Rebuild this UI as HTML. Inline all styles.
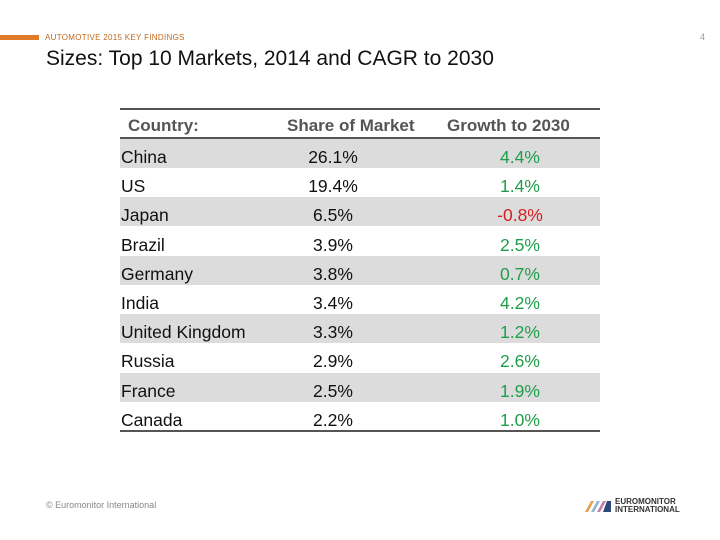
<!DOCTYPE html>
<html><head><meta charset="utf-8"><style>
body{margin:0;width:720px;height:540px;background:#fff;position:relative;overflow:hidden;font-family:"Liberation Sans",sans-serif}
.a{position:absolute}
.row{position:absolute;left:120px;width:480px;height:29px}
.row span{position:absolute;top:8px;font-size:17.5px;line-height:20px;color:#111}
.row span.c{width:120px;text-align:center}
</style></head><body>
<div class="a" style="left:0;top:35px;width:39px;height:5px;background:#e07b2a"></div>
<div class="a" style="left:45px;top:33px;font-size:8px;color:#c0691f;letter-spacing:.3px">AUTOMOTIVE 2015 KEY FINDINGS</div>
<div class="a" style="left:700px;top:32px;font-size:9px;color:#999">4</div>
<div class="a" style="left:46px;top:47px;font-size:21px;color:#111">Sizes: Top 10 Markets, 2014 and CAGR to 2030</div>
<div class="a" style="left:120px;top:108px;width:480px;height:2px;background:#555"></div>
<div class="a" style="left:128px;top:116px;font-size:17px;font-weight:bold;color:#555">Country:</div>
<div class="a" style="left:287px;top:116px;font-size:17px;font-weight:bold;color:#555">Share of Market</div>
<div class="a" style="left:447px;top:116px;font-size:17px;font-weight:bold;color:#555">Growth to 2030</div>
<div class="a" style="left:120px;top:137px;width:480px;height:2px;background:#555"></div>
<div id="rows"></div>
<div class="a" style="left:120px;top:430px;width:480px;height:2px;background:#555"></div>
<div class="a" style="left:46px;top:500px;font-size:9px;color:#888">© Euromonitor International</div>
<div class="a" style="left:583px;top:498px">
<svg width="30" height="16"><path d="M2 14L8 3h3L5 14z" fill="#e9a04a"/><path d="M8 14L14 3h3L11 14z" fill="#8fb6d8"/><path d="M14 14L20 3h3L17 14z" fill="#c77dab"/><path d="M20 14L24 3h4v11z" fill="#2e4a7a"/></svg>
<span class="a" style="left:32px;top:0;font-size:8px;line-height:8px;color:#333;font-weight:bold;width:70px">EUROMONITOR<br>INTERNATIONAL</span></div>
<script>
const countries=["China","US","Japan","Brazil","Germany","India","United Kingdom","Russia","France","Canada"];
const share=["26.1%","19.4%","6.5%","3.9%","3.8%","3.4%","3.3%","2.9%","2.5%","2.2%"];
const growth=[4.4,1.4,-0.8,2.5,0.7,4.2,1.2,2.6,1.9,1.0];
const c=document.getElementById('rows');
countries.forEach((n,i)=>{
 const r=document.createElement('div');r.className='row';
 
 
 r.style.top=(139+i*29.2)+'px';
 if(i%2===0)r.style.background='#dcdcdc';
 const a=document.createElement('span');a.textContent=n;a.style.left='1px';
 
 
 const b=document.createElement('span');b.textContent=share[i];b.className='c';b.style.left='153px';
 
 
 const g=document.createElement('span');g.textContent=growth[i].toFixed(1)+'%';g.className='c';
 
 
 g.style.left='340px';g.style.color=growth[i]<0?'#d42020':'#1e9e4a';
 r.append(a,b,g);c.appendChild(r);
});
</script>
</body></html>
